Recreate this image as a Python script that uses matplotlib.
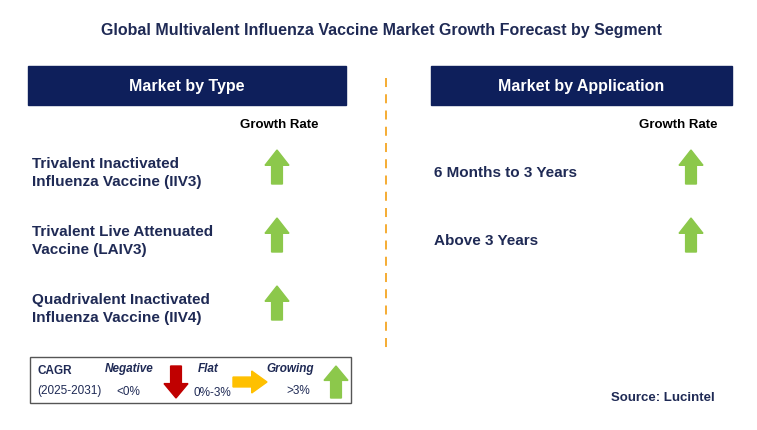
import matplotlib.pyplot as plt
from matplotlib.patches import Rectangle, Polygon

plt.rcParams["font.family"] = "Liberation Sans"

# data
type_labels = ["Trivalent Inactivated\nInfluenza Vaccine (IIV3)",
               "Trivalent Live Attenuated\nVaccine (LAIV3)",
               "Quadrivalent Inactivated\nInfluenza Vaccine (IIV4)"]
type_growth = ["up", "up", "up"]
app_labels = ["6 Months to 3 Years", "Above 3 Years"]
app_growth = ["up", "up"]

NAVY = "#0e1f5b"
GREEN = "#8cc84b"
RED = "#c00000"
YELLOW = "#ffc000"
TXT = "#1f2a55"

fig = plt.figure(figsize=(7.57, 4.30), dpi=100)
ax = fig.add_axes([0, 0, 1, 1])
ax.set_xlim(0, 757)
ax.set_ylim(430, 0)
ax.axis("off")


def arrow(cx, cy, direction, color, w=24, h=34):
    # block arrow centred at (cx, cy)
    sw = w * 0.45
    hh = h * 0.45
    if direction == "up":
        pts = [(cx, cy - h/2), (cx + w/2, cy - h/2 + hh), (cx + sw/2, cy - h/2 + hh),
               (cx + sw/2, cy + h/2), (cx - sw/2, cy + h/2), (cx - sw/2, cy - h/2 + hh),
               (cx - w/2, cy - h/2 + hh)]
    elif direction == "down":
        pts = [(cx, cy + h/2), (cx + w/2, cy + h/2 - hh), (cx + sw/2, cy + h/2 - hh),
               (cx + sw/2, cy - h/2), (cx - sw/2, cy - h/2), (cx - sw/2, cy + h/2 - hh),
               (cx - w/2, cy + h/2 - hh)]
    else:  # right
        pts = [(cx + h/2, cy), (cx + h/2 - hh, cy - w/2), (cx + h/2 - hh, cy - sw/2),
               (cx - h/2, cy - sw/2), (cx - h/2, cy + sw/2), (cx + h/2 - hh, cy + sw/2),
               (cx + h/2 - hh, cy + w/2)]
    ax.add_patch(Polygon(pts, closed=True, color=color))


ax.text(381, 30, "Global Multivalent Influenza Vaccine Market Growth Forecast by Segment",
        ha="center", va="center", fontsize=11.5, fontweight="bold", color=TXT)

# headers
ax.add_patch(Rectangle((28, 66), 318, 39, color=NAVY))
ax.text(187, 86, "Market by Type", ha="center", va="center", fontsize=11.5,
        fontweight="bold", color="white")
ax.add_patch(Rectangle((431, 66), 301, 39, color=NAVY))
ax.text(581, 86, "Market by Application", ha="center", va="center", fontsize=11.5,
        fontweight="bold", color="white")

ax.plot([386, 386], [78, 350], ls=(0, (5, 4)), color="#f5a623", lw=1.3)

ax.text(279, 125, "Growth Rate", ha="center", va="center", fontsize=9.5,
        fontweight="bold", color="black")
ax.text(678, 125, "Growth Rate", ha="center", va="center", fontsize=9.5,
        fontweight="bold", color="black")

for i, (lab, g) in enumerate(zip(type_labels, type_growth)):
    y = 173 + i * 68
    ax.text(32, y, lab, ha="left", va="center", fontsize=11, fontweight="bold",
            color=TXT, linespacing=1.3)
    arrow(277, y - 6, g, GREEN)

for i, (lab, g) in enumerate(zip(app_labels, app_growth)):
    y = 173 + i * 68
    ax.text(434, y, lab, ha="left", va="center", fontsize=11, fontweight="bold",
            color=TXT)
    arrow(691, y - 6, g, GREEN)

# legend
ax.add_patch(Rectangle((30, 357), 321, 46, fill=False, ec="#555555", lw=1))
ax.text(37, 371, "CAGR", fontsize=8.5, fontweight="bold", color=TXT, va="center")
ax.text(37, 391, "(2025-2031)", fontsize=8.5, color=TXT, va="center")
ax.text(129, 369, "Negative", fontsize=8.5, fontweight="bold", style="italic", color=TXT,
        ha="center", va="center")
ax.text(128, 392, "<0%", fontsize=8.5, color=TXT, ha="center", va="center")
arrow(176, 382, "down", RED, w=24, h=32)
ax.text(208, 369, "Flat", fontsize=8.5, fontweight="bold", style="italic", color=TXT,
        ha="center", va="center")
ax.text(212, 393, "0%-3%", fontsize=8.5, color=TXT, ha="center", va="center")
arrow(250, 382, "right", YELLOW, w=22, h=34)
ax.text(290, 369, "Growing", fontsize=8.5, fontweight="bold", style="italic", color=TXT,
        ha="center", va="center")
ax.text(298, 391, ">3%", fontsize=8.5, color=TXT, ha="center", va="center")
arrow(336, 382, "up", GREEN, w=24, h=32)

ax.text(715, 398, "Source: Lucintel", ha="right", va="center", fontsize=9.5,
        fontweight="bold", color=TXT)

fig.savefig("out.png", dpi=100)
